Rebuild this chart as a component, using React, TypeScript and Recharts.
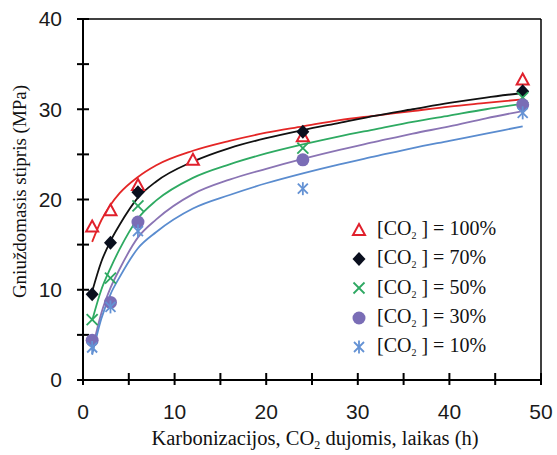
import React from 'react';
import { ComposedChart, Line, Scatter, XAxis, YAxis, ReferenceLine } from 'recharts';

const xTicks = [0, 5, 10, 15, 20, 25, 30, 35, 40, 45, 50];
const yTicks = [0, 5, 10, 15, 20, 25, 30, 35, 40];

// measured points
const hours100 = [1, 3, 6, 12, 24, 48];
const strength100 = [17.0, 18.8, 21.6, 24.4, 27.0, 33.3];
const hours = [1, 3, 6, 24, 48];
const strength70 = [9.5, 15.2, 20.8, 27.5, 32.0];
const strength50 = [6.7, 11.3, 19.3, 25.7, 31.3];
const strength30 = [4.4, 8.6, 17.5, 24.4, 30.5];
const strength10 = [3.6, 8.1, 16.5, 21.2, 29.6];

// trend curves
const fitHours = [1, 2, 3, 4, 6, 8, 12, 16, 20, 24, 28, 32, 36, 40, 44, 48];
const fit100 = [15.3, 17.7, 19.4, 20.7, 22.5, 23.8, 25.4, 26.5, 27.4, 28.1, 28.8, 29.3, 29.8, 30.3, 30.7, 31.1];
const fit70 = [9.8, 13.1, 15.4, 17.2, 20.2, 22.0, 24.2, 25.7, 26.8, 27.7, 28.5, 29.3, 30.0, 30.7, 31.3, 31.8];
const fit50 = [6.6, 10.0, 12.4, 14.5, 17.9, 19.9, 22.4, 23.9, 25.1, 26.1, 27.0, 27.8, 28.6, 29.3, 30.0, 30.6];
const fit30 = [3.3, 7.4, 10.2, 12.3, 15.8, 17.8, 20.6, 22.2, 23.4, 24.5, 25.5, 26.4, 27.3, 28.1, 29.0, 29.8];
const fit10 = [2.8, 6.8, 9.5, 11.4, 14.6, 16.4, 19.0, 20.5, 21.8, 22.9, 23.9, 24.8, 25.7, 26.5, 27.3, 28.1];

const toRows = (xs: number[], ys: number[]) => xs.map((h, i) => ({ h, v: ys[i] }));

type Marker = 'triangle' | 'diamond' | 'cross' | 'circle' | 'star';

const series: { key: string; label: string; color: string; lineColor: string; marker: Marker; points: { h: number; v: number }[]; fit: { h: number; v: number }[] }[] = [
  { key: 's100', label: '100%', color: '#e0202c', lineColor: '#e42626', marker: 'triangle', points: toRows(hours100, strength100), fit: toRows(fitHours, fit100) },
  { key: 's70', label: '70%', color: '#0a0f1e', lineColor: '#111111', marker: 'diamond', points: toRows(hours, strength70), fit: toRows(fitHours, fit70) },
  { key: 's50', label: '50%', color: '#2ea862', lineColor: '#2eaa62', marker: 'cross', points: toRows(hours, strength50), fit: toRows(fitHours, fit50) },
  { key: 's30', label: '30%', color: '#7a6db6', lineColor: '#8a74b4', marker: 'circle', points: toRows(hours, strength30), fit: toRows(fitHours, fit30) },
  { key: 's10', label: '10%', color: '#6492d4', lineColor: '#5a8ccf', marker: 'star', points: toRows(hours, strength10), fit: toRows(fitHours, fit10) },
];

// cross ticks sit on the axes, placed through the chart scales
const xTickMarks = xTicks.map(t => ({ h: t, v: 0 }));
const yTickMarks = yTicks.map(t => ({ h: 0, v: t }));

const tickFont = { fontSize: 21, fill: '#1a1a1a', fontFamily: "'Liberation Sans', Arial, sans-serif" };
const majorOnly = (v: number) => (v % 10 === 0 ? String(v) : '');

function MarkerGlyph({ type, color, cx, cy }: { type: Marker; color: string; cx: number; cy: number }) {
  switch (type) {
    case 'triangle':
      return <path d={`M${cx},${cy - 6} L${cx + 6},${cy + 5} L${cx - 6},${cy + 5} Z`} fill="#fff" stroke={color} strokeWidth={2} />;
    case 'diamond':
      return <path d={`M${cx},${cy - 7} L${cx + 6.5},${cy} L${cx},${cy + 7} L${cx - 6.5},${cy} Z`} fill={color} />;
    case 'cross':
      return (
        <g stroke={color} strokeWidth={1.8}>
          <line x1={cx - 5.5} y1={cy - 5.5} x2={cx + 5.5} y2={cy + 5.5} />
          <line x1={cx - 5.5} y1={cy + 5.5} x2={cx + 5.5} y2={cy - 5.5} />
        </g>
      );
    case 'circle':
      return <circle cx={cx} cy={cy} r={6.5} fill={color} />;
    default:
      return (
        <g stroke={color} strokeWidth={1.8}>
          <line x1={cx - 5} y1={cy - 5} x2={cx + 5} y2={cy + 5} />
          <line x1={cx - 5} y1={cy + 5} x2={cx + 5} y2={cy - 5} />
          <line x1={cx} y1={cy - 6.5} x2={cx} y2={cy + 6.5} />
        </g>
      );
  }
}

function XTitle({ viewBox }: any) {
  const cx = viewBox.x + viewBox.width / 2 + 3;
  return (
    <text x={cx} y={viewBox.y + 65} textAnchor="middle" fontSize={20.5} fill="#111" fontFamily="'Liberation Serif', 'Times New Roman', serif">
      Karbonizacijos, CO<tspan fontSize={12} dy={4}>2</tspan>
      <tspan dy={-4}> dujomis, laikas (h)</tspan>
    </text>
  );
}

function YTitle({ viewBox }: any) {
  const cx = 19;
  const cy = viewBox.y + viewBox.height / 2 - 8;
  return (
    <text x={cx} y={cy} transform={`rotate(-90, ${cx}, ${cy})`} textAnchor="middle" dominantBaseline="central" fontSize={19} fill="#111" fontFamily="'Liberation Serif', 'Times New Roman', serif">
      Gniuždomasis stipris (MPa)
    </text>
  );
}

function LegendBox() {
  return (
    <div style={{ position: 'absolute', left: 350, top: 215, fontFamily: "'Liberation Serif', 'Times New Roman', serif", fontSize: 20, color: '#111', lineHeight: 1 }}>
      {series.map(s => (
        <div key={s.key} style={{ display: 'flex', alignItems: 'center', height: 29.3 }}>
          <svg width={18} height={18} style={{ marginRight: 9 }}>
            <MarkerGlyph type={s.marker} color={s.color} cx={9} cy={9} />
          </svg>
          <span>
            [CO<sub style={{ fontSize: 10, verticalAlign: -4 }}>2</sub> ] = {s.label}
          </span>
        </div>
      ))}
    </div>
  );
}

export default function App() {
  return (
    <div style={{ position: 'absolute', left: 0, top: 0, width: 557, height: 455, background: '#fff' }}>
      <ComposedChart width={557} height={455} margin={{ top: 19, right: 16, bottom: 0, left: 0 }}>
        <XAxis
          type="number" dataKey="h" domain={[0, 50]} ticks={xTicks} interval={0}
          tick={tickFont} tickFormatter={majorOnly} tickLine={false} tickSize={0} tickMargin={24} height={75}
          axisLine={{ stroke: '#000', strokeWidth: 2 }}
          label={<XTitle />}
        />
        <YAxis
          type="number" dataKey="v" domain={[0, 40]} ticks={yTicks} interval={0}
          tick={tickFont} tickFormatter={majorOnly} tickLine={false} tickSize={0} tickMargin={21} width={83}
          axisLine={{ stroke: '#000', strokeWidth: 2 }}
          label={<YTitle />}
        />
        <ReferenceLine y={40} stroke="#000" strokeWidth={1.5} />
        <ReferenceLine x={50} stroke="#000" strokeWidth={1.5} />
        <Scatter data={xTickMarks} dataKey="v" isAnimationActive={false} legendType="none"
          shape={(p: any) => <line x1={p.cx} x2={p.cx} y1={p.cy - 7} y2={p.cy + 5} stroke="#000" strokeWidth={2} />} />
        <Scatter data={yTickMarks} dataKey="v" isAnimationActive={false} legendType="none"
          shape={(p: any) => <line x1={p.cx - 6} x2={p.cx + 6} y1={p.cy} y2={p.cy} stroke="#000" strokeWidth={2} />} />
        {series.map(s => (
          <Line key={`fit-${s.key}`} data={s.fit} dataKey="v" type="monotone" stroke={s.lineColor}
            strokeWidth={1.8} dot={false} activeDot={false} isAnimationActive={false} legendType="none" />
        ))}
        {series.map(s => (
          <Scatter key={`pt-${s.key}`} data={s.points} dataKey="v" isAnimationActive={false}
            shape={(p: any) => <MarkerGlyph type={s.marker} color={s.color} cx={p.cx} cy={p.cy} />} />
        ))}
      </ComposedChart>
      <LegendBox />
    </div>
  );
}
